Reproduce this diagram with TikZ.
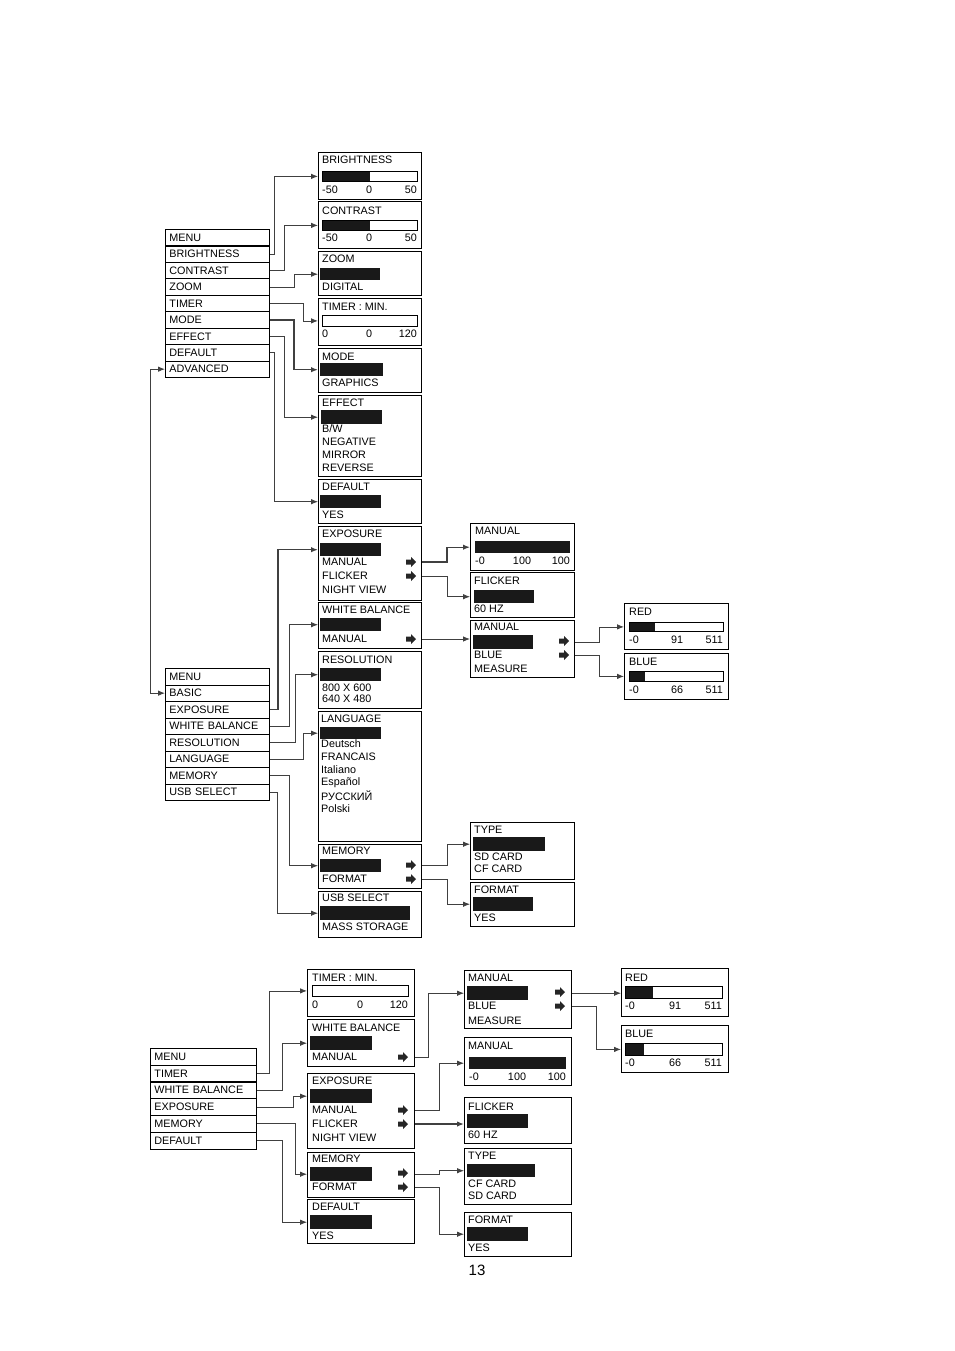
\documentclass[tikz,border=0pt]{standalone}
\usepackage{fontspec}
\setmainfont{Liberation Sans}
\usetikzlibrary{arrows.meta}

\begin{document}
\begin{tikzpicture}[x=1pt, y=-1pt,
  row/.style={draw, line width=0.8pt, anchor=north west, minimum height=16.5pt,
    text width=96pt, inner xsep=4pt, inner ysep=0pt, font=\fontsize{10.8}{12}\selectfont},
  box/.style={draw, line width=0.9pt, anchor=north west, inner sep=0pt},
  txt/.style={anchor=west, inner sep=0pt, font=\fontsize{10.8}{12}\selectfont},
  bar/.style={fill=black!90, anchor=north west, inner sep=0pt},
  slider/.style={draw, line width=0.8pt, anchor=north west, inner sep=0pt, minimum height=10pt},
  link/.style={draw=black!75, line width=0.8pt, -{Latex[length=7pt,width=5.5pt]}},
  strong/.style={line width=1.4pt},
  sel/.pic={\fill[black!85] (-5,-2.5) rectangle (0,2.5) (0,-5) -- (5,0) -- (0,5) -- cycle;}
]
\useasboundingbox (0,0) rectangle (954,1351);

%%%%%%%%%%%%%%%%%%%% ADVANCED MENU %%%%%%%%%%%%%%%%%%%%

% Menu list
\foreach \t [count=\i] in {MENU,BRIGHTNESS,CONTRAST,ZOOM,TIMER,MODE,EFFECT,DEFAULT,ADVANCED}
  \node[row] (a\i) at (165,{229+16.44*(\i-1)}) {\t};

% Brightness
\node[box, minimum width=103pt, minimum height=47pt] (aBri) at (318,152) {};
\node[txt] (aBriT) at (322,160) {BRIGHTNESS};
\fill[black!90] (322,171) rectangle (370,181);
\node[slider, minimum width=95pt] (aBriBar) at (322,171) {};
\node[txt] (aBriL) at (322,190) {-50};
\node[txt, anchor=center] (aBriM) at (369,190) {0};
\node[txt, anchor=east] (aBriR) at (417,190) {50};

% Contrast
\node[box, minimum width=103pt, minimum height=47pt] (aCon) at (318,201) {};
\node[txt] (aConT) at (322,211) {CONTRAST};
\fill[black!90] (322,220) rectangle (370,230);
\node[slider, minimum width=95pt] (aConBar) at (322,220) {};
\node[txt] (aConL) at (322,238) {-50};
\node[txt, anchor=center] (aConM) at (369,238) {0};
\node[txt, anchor=east] (aConR) at (417,238) {50};

% Zoom
\node[box, minimum width=103pt, minimum height=44pt] (aZoo) at (318,251) {};
\node[txt] (aZooT) at (322,259) {ZOOM};
\node[bar, minimum width=60pt, minimum height=12pt] (aZooBar) at (320,268) {};
\node[txt] (aZoo1) at (322,287) {DIGITAL};

% Timer
\node[box, minimum width=103pt, minimum height=47pt] (aTim) at (318,298) {};
\node[txt] (aTimT) at (322,307) {TIMER : MIN.};
\node[slider, minimum width=95pt, minimum height=11pt] (aTimBar) at (322,315) {};
\node[txt] (aTimL) at (322,334) {0};
\node[txt, anchor=center] (aTimM) at (369,334) {0};
\node[txt, anchor=east] (aTimR) at (417,334) {120};

% Mode
\node[box, minimum width=103pt, minimum height=44pt] (aMod) at (318,348) {};
\node[txt] (aModT) at (322,357) {MODE};
\node[bar, minimum width=63pt, minimum height=13pt] (aModBar) at (320,363) {};
\node[txt] (aMod1) at (322,383) {GRAPHICS};

% Effect
\node[box, minimum width=103pt, minimum height=81pt] (aEff) at (318,395) {};
\node[txt] (aEffT) at (322,403) {EFFECT};
\node[bar, minimum width=61pt, minimum height=14pt] (aEffBar) at (321,410) {};
\foreach \t [count=\i] in {B/W,NEGATIVE,MIRROR,REVERSE}
  \node[txt] (aEff\i) at (322,{429+13*(\i-1)}) {\t};

% Default
\node[box, minimum width=103pt, minimum height=44pt] (aDef) at (318,479) {};
\node[txt] (aDefT) at (322,487) {DEFAULT};
\node[bar, minimum width=61pt, minimum height=13pt] (aDefBar) at (320,495) {};
\node[txt] (aDef1) at (322,515) {YES};

% Connectors
\draw[link] (a2.east) -- ++(5,0) |- (aBri.west |- aBriBar);
\draw[link] (a3.east) -- ++(15,0) |- (aCon.west |- aConBar);
\draw[link] (a4.east) -- ++(25,0) |- (aZoo.west |- aZooBar);
\draw[link] (a5.east) -- ++(34,0) |- (aTim.west |- aTimBar);
\draw[link, strong] (a6.east) -- ++(24,0) |- (aMod.west |- aModBar);
\draw[link] (a7.east) -- ++(15,0) |- (aEff.west |- aEffBar);
\draw[link] (a8.east) -- ++(5,0) |- (aDef.west |- aDefBar);

%%%%%%%%%%%%%%%%%%%% BASIC MENU %%%%%%%%%%%%%%%%%%%%

% Menu list
\foreach \t [count=\i] in {MENU,BASIC,EXPOSURE,WHITE BALANCE,RESOLUTION,LANGUAGE,MEMORY,USB SELECT}
  \node[row] (b\i) at (165,{668+16.5*(\i-1)}) {\t};

% ADVANCED <-> BASIC
\draw[link, {Latex[length=7pt,width=5.5pt]}-{Latex[length=7pt,width=5.5pt]}]
  (a9.west) -- ++(-15,0) |- (b2.west);

% Exposure
\node[box, minimum width=103pt, minimum height=74pt] (bExp) at (318,526) {};
\node[txt] (bExpT) at (322,534) {EXPOSURE};
\node[bar, minimum width=61pt, minimum height=13pt] (bExpBar) at (320,543) {};
\node[txt] (bExp1) at (322,562) {MANUAL};
\node[txt] (bExp2) at (322,576) {FLICKER};
\node[txt] (bExp3) at (322,590) {NIGHT VIEW};
\pic at (411,562) {sel};
\pic at (411,576) {sel};

% White balance
\node[box, minimum width=103pt, minimum height=46pt] (bWb) at (318,602) {};
\node[txt] (bWbT) at (322,610) {WHITE BALANCE};
\node[bar, minimum width=61pt, minimum height=13pt] (bWbBar) at (320,618) {};
\node[txt] (bWb1) at (322,639) {MANUAL};
\pic at (411,639) {sel};

% Resolution
\node[box, minimum width=103pt, minimum height=57pt] (bRes) at (318,651) {};
\node[txt] (bResT) at (322,660) {RESOLUTION};
\node[bar, minimum width=61pt, minimum height=13pt] (bResBar) at (320,668) {};
\node[txt] (bRes1) at (322,688) {800 X 600};
\node[txt] (bRes2) at (322,699) {640 X 480};

% Language
\node[box, minimum width=103pt, minimum height=130pt] (bLan) at (318,711) {};
\node[txt] (bLanT) at (321,719) {LANGUAGE};
\node[bar, minimum width=61pt, minimum height=12pt] (bLanBar) at (320,727) {};
\foreach \t [count=\i] in {Deutsch,FRANCAIS,Italiano,Español,РУССКИЙ,Polski}
  \node[txt] (bLan\i) at (321,{744+13*(\i-1)}) {\t};

% Memory
\node[box, minimum width=103pt, minimum height=44pt] (bMem) at (318,844) {};
\node[txt] (bMemT) at (322,851) {MEMORY};
\node[bar, minimum width=61pt, minimum height=13pt] (bMemBar) at (320,859) {};
\node[txt] (bMem1) at (322,879) {FORMAT};
\pic at (411,865) {sel};
\pic at (411,879) {sel};

% USB select
\node[box, minimum width=103pt, minimum height=46pt] (bUsb) at (318,891) {};
\node[txt] (bUsbT) at (322,898) {USB SELECT};
\node[bar, minimum width=90pt, minimum height=14pt] (bUsbBar) at (320,906) {};
\node[txt] (bUsb1) at (322,927) {MASS STORAGE};

% Manual (exposure)
\node[box, minimum width=104pt, minimum height=47pt] (bMex) at (470,523) {};
\node[txt] (bMexT) at (475,531) {MANUAL};
\node[bar, minimum width=95pt, minimum height=12pt] (bMexBar) at (475,541) {};
\node[txt] (bMexL) at (475,561) {-0};
\node[txt, anchor=center] (bMexM) at (522,561) {100};
\node[txt, anchor=east] (bMexR) at (570,561) {100};

% Flicker
\node[box, minimum width=104pt, minimum height=45pt] (bFlk) at (470,572) {};
\node[txt] (bFlkT) at (474,581) {FLICKER};
\node[bar, minimum width=60pt, minimum height=13pt] (bFlkBar) at (474,590) {};
\node[txt] (bFlk1) at (474,609) {60 HZ};

% Manual (white balance)
\node[box, minimum width=104pt, minimum height=57pt] (bMwb) at (470,620) {};
\node[txt] (bMwbT) at (474,627) {MANUAL};
\node[bar, minimum width=60pt, minimum height=14pt] (bMwbBar) at (473,635) {};
\node[txt] (bMwb1) at (474,655) {BLUE};
\node[txt] (bMwb2) at (474,669) {MEASURE};
\pic at (564,641) {sel};
\pic at (564,655) {sel};

% Type
\node[box, minimum width=104pt, minimum height=57pt] (bTyp) at (470,822) {};
\node[txt] (bTypT) at (474,830) {TYPE};
\node[bar, minimum width=72pt, minimum height=14pt] (bTypBar) at (473,837) {};
\node[txt] (bTyp1) at (474,857) {SD CARD};
\node[txt] (bTyp2) at (474,869) {CF CARD};

% Format
\node[box, minimum width=104pt, minimum height=44pt] (bFmt) at (470,882) {};
\node[txt] (bFmtT) at (474,890) {FORMAT};
\node[bar, minimum width=60pt, minimum height=14pt] (bFmtBar) at (473,897) {};
\node[txt] (bFmt1) at (474,918) {YES};

% Red
\node[box, minimum width=104pt, minimum height=46pt] (bRed) at (624,603) {};
\node[txt] (bRedT) at (629,612) {RED};
\fill[black!90] (629,622) rectangle (655,631);
\node[slider, minimum width=94pt, minimum height=9pt] (bRedBar) at (629,622) {};
\node[txt] (bRedL) at (629,640) {-0};
\node[txt, anchor=center] (bRedM) at (677,640) {91};
\node[txt, anchor=east] (bRedR) at (723,640) {511};

% Blue
\node[box, minimum width=104pt, minimum height=46pt] (bBlu) at (624,653) {};
\node[txt] (bBluT) at (629,662) {BLUE};
\fill[black!90] (629,671) rectangle (645,681);
\node[slider, minimum width=94pt] (bBluBar) at (629,671) {};
\node[txt] (bBluL) at (629,690) {-0};
\node[txt, anchor=center] (bBluM) at (677,690) {66};
\node[txt, anchor=east] (bBluR) at (723,690) {511};

% Connectors
\draw[link, strong] (b3.east) -- ++(8,0) |- (bExp.west |- bExpBar);
\draw[link] (b4.east) -- ++(20,0) |- (bWb.west |- bWbBar);
\draw[link] (b5.east) -- ++(26,0) |- (bRes.west |- bResBar);
\draw[link] (b6.east) -- ++(34,0) |- (bLan.west |- bLanBar);
\draw[link] (b7.east) -- ++(20,0) |- (bMem.west |- bMemBar);
\draw[link] (b8.east) -- ++(8,0) |- (bUsb.west |- bUsbBar);

\draw[link, strong] (bExp.east |- bExp1) -- ++(25,0) |- (bMex.west |- bMexBar);
\draw[link] (bExp.east |- bExp2) -- ++(25,0) |- (bFlk.west |- bFlkBar);
\draw[link] (bWb.east |- bWb1) -- (bMwb.west |- bWb1);
\draw[link] (bMem.east |- bMemBar) -- ++(25,0) |- (bTyp.west |- bTypBar);
\draw[link] (bMem.east |- bMem1) -- ++(25,0) |- (bFmt.west |- bFmtBar);

\draw[link] (bMwb.east |- bMwbBar) -- ++(24,0) |- (bRed.west |- bRedBar);
\draw[link] (bMwb.east |- bMwb1) -- ++(24,0) |- (bBlu.west |- bBluBar);

%%%%%%%%%%%%%%%%%%%% QUICK MENU %%%%%%%%%%%%%%%%%%%%

% Menu list
\foreach \t [count=\i] in {MENU,TIMER,WHITE BALANCE,EXPOSURE,MEMORY,DEFAULT}
  \node[row, text width=98pt] (c\i) at (150,{1048+16.8*(\i-1)}) {\t};

% Timer
\node[box, minimum width=107pt, minimum height=47pt] (cTim) at (307,969) {};
\node[txt] (cTimT) at (312,978) {TIMER : MIN.};
\node[slider, minimum width=96pt, minimum height=11pt] (cTimBar) at (312,985) {};
\node[txt] (cTimL) at (312,1005) {0};
\node[txt, anchor=center] (cTimM) at (360,1005) {0};
\node[txt, anchor=east] (cTimR) at (408,1005) {120};

% White balance
\node[box, minimum width=107pt, minimum height=47pt] (cWb) at (307,1019) {};
\node[txt] (cWbT) at (312,1028) {WHITE BALANCE};
\node[bar, minimum width=62pt, minimum height=14pt] (cWbBar) at (310,1036) {};
\node[txt] (cWb1) at (312,1057) {MANUAL};
\pic at (403,1057) {sel};

% Exposure
\node[box, minimum width=107pt, minimum height=75pt] (cExp) at (307,1073) {};
\node[txt] (cExpT) at (312,1081) {EXPOSURE};
\node[bar, minimum width=62pt, minimum height=14pt] (cExpBar) at (310,1089) {};
\node[txt] (cExp1) at (312,1110) {MANUAL};
\node[txt] (cExp2) at (312,1124) {FLICKER};
\node[txt] (cExp3) at (312,1138) {NIGHT VIEW};
\pic at (403,1110) {sel};
\pic at (403,1124) {sel};

% Memory
\node[box, minimum width=107pt, minimum height=45pt] (cMem) at (307,1152) {};
\node[txt] (cMemT) at (312,1159) {MEMORY};
\node[bar, minimum width=62pt, minimum height=14pt] (cMemBar) at (310,1167) {};
\node[txt] (cMem1) at (312,1187) {FORMAT};
\pic at (403,1173) {sel};
\pic at (403,1187) {sel};

% Default
\node[box, minimum width=107pt, minimum height=44pt] (cDef) at (307,1199) {};
\node[txt] (cDefT) at (312,1207) {DEFAULT};
\node[bar, minimum width=62pt, minimum height=14pt] (cDefBar) at (310,1215) {};
\node[txt] (cDef1) at (312,1236) {YES};

% Manual (white balance)
\node[box, minimum width=107pt, minimum height=58pt] (cMwb) at (464,970) {};
\node[txt] (cMwbT) at (468,978) {MANUAL};
\node[bar, minimum width=61pt, minimum height=14pt] (cMwbBar) at (467,986) {};
\node[txt] (cMwb1) at (468,1006) {BLUE};
\node[txt] (cMwb2) at (468,1021) {MEASURE};
\pic at (560,992) {sel};
\pic at (560,1006) {sel};

% Manual (exposure)
\node[box, minimum width=107pt, minimum height=48pt] (cMex) at (464,1037) {};
\node[txt] (cMexT) at (468,1046) {MANUAL};
\node[bar, minimum width=97pt, minimum height=12pt] (cMexBar) at (469,1057) {};
\node[txt] (cMexL) at (469,1077) {-0};
\node[txt, anchor=center] (cMexM) at (517,1077) {100};
\node[txt, anchor=east] (cMexR) at (566,1077) {100};

% Flicker
\node[box, minimum width=107pt, minimum height=46pt] (cFlk) at (464,1097) {};
\node[txt] (cFlkT) at (468,1107) {FLICKER};
\node[bar, minimum width=61pt, minimum height=14pt] (cFlkBar) at (467,1114) {};
\node[txt] (cFlk1) at (468,1135) {60 HZ};

% Type
\node[box, minimum width=107pt, minimum height=56pt] (cTyp) at (464,1148) {};
\node[txt] (cTypT) at (468,1156) {TYPE};
\node[bar, minimum width=68pt, minimum height=13pt] (cTypBar) at (467,1164) {};
\node[txt] (cTyp1) at (468,1184) {CF CARD};
\node[txt] (cTyp2) at (468,1196) {SD CARD};

% Format
\node[box, minimum width=107pt, minimum height=44pt] (cFmt) at (464,1212) {};
\node[txt] (cFmtT) at (468,1220) {FORMAT};
\node[bar, minimum width=61pt, minimum height=14pt] (cFmtBar) at (467,1227) {};
\node[txt] (cFmt1) at (468,1248) {YES};

% Red
\node[box, minimum width=107pt, minimum height=48pt] (cRed) at (621,968) {};
\node[txt] (cRedT) at (625,978) {RED};
\fill[black!90] (625,986) rectangle (653,998);
\node[slider, minimum width=97pt, minimum height=12pt] (cRedBar) at (625,986) {};
\node[txt] (cRedL) at (625,1006) {-0};
\node[txt, anchor=center] (cRedM) at (675,1006) {91};
\node[txt, anchor=east] (cRedR) at (722,1006) {511};

% Blue
\node[box, minimum width=107pt, minimum height=47pt] (cBlu) at (621,1025) {};
\node[txt] (cBluT) at (625,1034) {BLUE};
\fill[black!90] (625,1043) rectangle (644,1055);
\node[slider, minimum width=97pt, minimum height=12pt] (cBluBar) at (625,1043) {};
\node[txt] (cBluL) at (625,1063) {-0};
\node[txt, anchor=center] (cBluM) at (675,1063) {66};
\node[txt, anchor=east] (cBluR) at (722,1063) {511};

% Connectors
\draw[link] (c2.east) -- ++(13,0) |- (cTim.west |- cTimBar);
\draw[link] (c3.east) -- ++(26,0) |- (cWb.west |- cWbBar);
\draw[link] (c4.east) -- ++(37,0) |- (cExp.west |- cExpBar);
\draw[link] (c5.east) -- ++(39,0) |- (cMem.west |- cMemBar);
\draw[link] (c6.east) -- ++(26,0) |- (cDef.west |- cDefBar);

\draw[link] (cWb.east |- cWb1) -- ++(13,0) |- (cMwb.west |- cMwbBar);
\draw[link] (cExp.east |- cExp1) -- ++(24,0) |- (cMex.west |- cMexBar);
\draw[link, strong] (cExp.east |- cExp2) -- (cFlk.west |- cExp2);
\draw[link] (cMem.east |- cMemBar) -- ++(24,0) |- (cTyp.west |- cTypBar);
\draw[link] (cMem.east |- cMem1) -- ++(24,0) |- (cFmt.west |- cFmtBar);

\draw[link] (cMwb.east |- cMwbBar) -- (cRed.west |- cMwbBar);
\draw[link] (cMwb.east |- cMwb1) -- ++(24,0) |- (cBlu.west |- cBluBar);

% Page number
\node[font=\fontsize{15}{18}\selectfont] (pg) at (477,1270) {13};

\end{tikzpicture}
\end{document}
